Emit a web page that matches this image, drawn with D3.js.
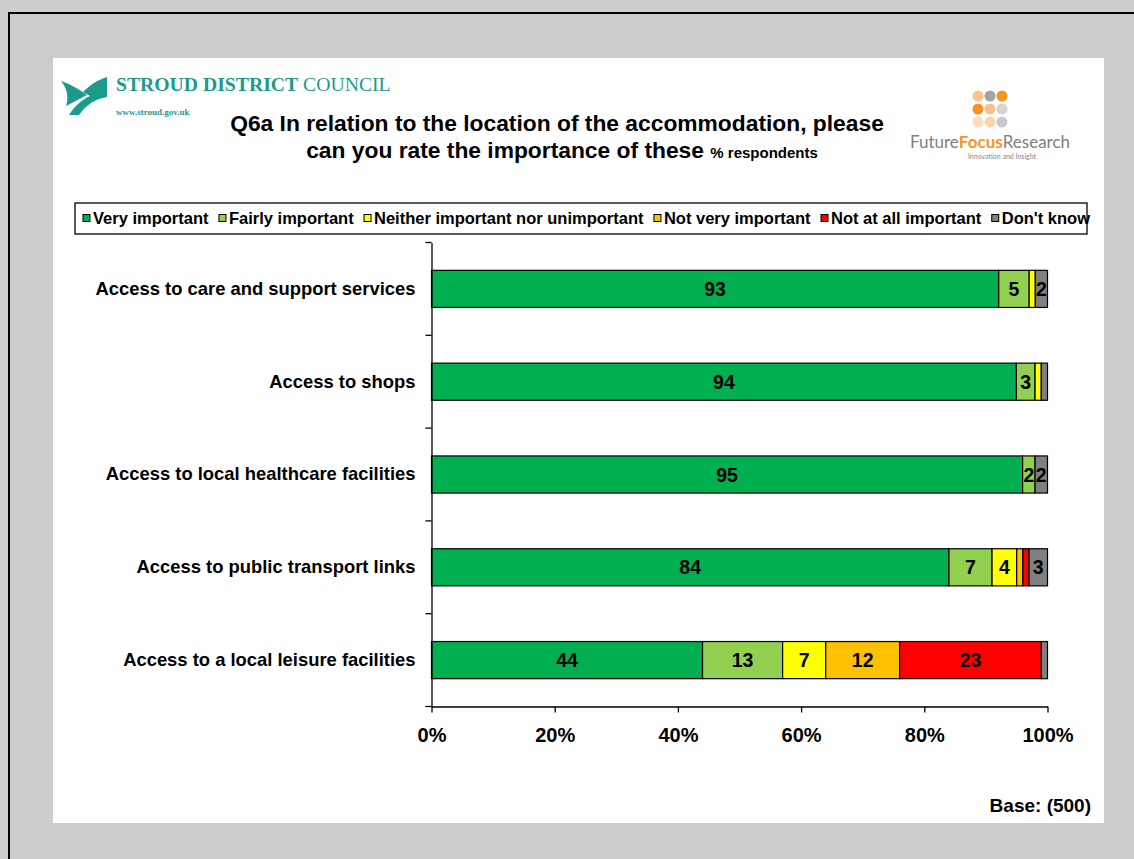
<!DOCTYPE html>
<html><head><meta charset="utf-8">
<script src="https://cdn.jsdelivr.net/npm/d3@7/dist/d3.min.js"></script>
<style>body{margin:0;background:#cccccc;} svg{display:block;}</style>
</head><body>
<svg id="c" width="1134" height="859"></svg>
<script>
// ---- data ----
const categories = [
  "Access to care and support services",
  "Access to shops",
  "Access to local healthcare facilities",
  "Access to public transport links",
  "Access to a local leisure facilities"
];
const seriesNames = ["Very important","Fairly important","Neither important nor unimportant","Not very important","Not at all important","Don't know"];
const veryImportant   = [93, 94, 95, 84, 44];
const fairlyImportant = [5, 3, 2, 7, 13];
const neitherImp      = [1, 1, 0, 4, 7];
const notVeryImp      = [0, 0, 0, 1, 12];
const notAtAllImp     = [0, 0, 0, 1, 23];
const dontKnow        = [2, 1, 2, 3, 1];
const xTicks = [0, 0.2, 0.4, 0.6, 0.8, 1];
const seriesColors = ["#00B050","#92D050","#FFFF00","#FFC000","#FF0000","#808080"];

const seriesValues = [veryImportant, fairlyImportant, neitherImp, notVeryImp, notAtAllImp, dontKnow];
const keys = seriesNames;
const rows = categories.map((c, i) => {
  const r = {cat: c};
  keys.forEach((k, j) => r[k] = seriesValues[j][i]);
  return r;
});

const svg = d3.select("#c");
const FONT = "'Liberation Sans', Arial, sans-serif";

// background & frame
svg.append("rect").attr("x",0).attr("y",0).attr("width",1134).attr("height",859).attr("fill","#cccccc");
svg.append("path").attr("d","M9,859 L9,13 L1134,13").attr("fill","none").attr("stroke","#000").attr("stroke-width",2);
svg.append("rect").attr("x",53).attr("y",58).attr("width",1051).attr("height",765).attr("fill","#fff");

// ---- Stroud logo ----
const teal = "#1a9b8c";
const logo = svg.append("g");
logo.append("path").attr("fill", teal)
  .attr("d","M61,81 C70,84 79,89 87,95 L66,106 C69,97 67,88 61,81 Z");
logo.append("path").attr("fill", teal)
  .attr("d","M83,92 C90,85 97,80 107,77 L107,97 C95,99 86,105 79,115 L69,115 C75,106 81,100 90,96 Z");
logo.append("text").attr("x",116).attr("y",91).attr("fill",teal)
  .style("font-family","'Liberation Serif','DejaVu Serif',serif").style("font-size","19.7px")
  .call(t => {
    t.append("tspan").style("font-weight","bold").text("STROUD DISTRICT");
    t.append("tspan").text(" COUNCIL");
  });
logo.append("text").attr("x",116).attr("y",115).attr("fill",teal)
  .style("font-family","'Liberation Serif','DejaVu Serif',serif").style("font-size","9px").style("font-weight","bold")
  .text("www.stroud.gov.uk");

// ---- Future Focus logo ----
const dotColors = [["#f9c28e","#a3a3a3","#f7941d"],["#f7941d","#f9c28e","#d4d4d4"],["#fcdcbc","#fbd3ac","#c9c9c9"]];
const ff = svg.append("g");
dotColors.forEach((row, r) => row.forEach((col, c) => {
  ff.append("circle").attr("cx", 978 + c*12).attr("cy", 96 + r*13).attr("r", 5.5).attr("fill", col);
}));
ff.append("text").attr("x",910).attr("y",148)
  .style("font-family","Lato, 'Open Sans', sans-serif").style("font-size","17px")
  .call(t => {
    t.append("tspan").attr("fill","#808080").text("Future");
    t.append("tspan").attr("fill","#f7941d").style("font-weight","bold").text("Focus");
    t.append("tspan").attr("fill","#808080").text("Research");
  });
ff.append("text").attr("x",1002).attr("y",159).attr("text-anchor","middle").attr("fill","#888")
  .style("font-family","Lato, sans-serif").style("font-size","7px").text("Innovation and Insight");

// ---- Title ----
svg.append("text").attr("x",557).attr("y",131).attr("text-anchor","middle")
  .style("font-family",FONT).style("font-weight","bold").style("font-size","22.8px")
  .text("Q6a In relation to the location of the accommodation, please");
svg.append("text").attr("x",562).attr("y",158).attr("text-anchor","middle")
  .style("font-family",FONT).style("font-weight","bold").style("font-size","22.8px")
  .call(t => {
    t.append("tspan").text("can you rate the importance of these ");
    t.append("tspan").style("font-size","15px").text("  % respondents");
  });

// ---- Legend ----
const lgX0 = 75, lgX1 = 1087, lgY0 = 203, lgY1 = 234;
svg.append("rect").attr("x",lgX0).attr("y",lgY0).attr("width",lgX1-lgX0).attr("height",lgY1-lgY0)
  .attr("fill","#fff").attr("stroke","#000").attr("stroke-width",1.3);
const lg = svg.append("g");
const lgFont = 16.5;
const items = keys.map((k, i) => {
  const g = lg.append("g");
  g.append("rect").attr("width",7).attr("height",7).attr("y",-4).attr("fill",seriesColors[i]).attr("stroke","#000").attr("stroke-width",1);
  const t = g.append("text").attr("x",10).attr("y",0).attr("dy","0.36em")
    .style("font-family",FONT).style("font-weight","bold").style("font-size",lgFont+"px").text(k);
  return {g, w: 10 + t.node().getComputedTextLength()};
});
const totalW = d3.sum(items, d => d.w);
const lgStart = 83, lgEnd = 1090;
const gap = (lgEnd - lgStart - totalW) / (items.length - 1);
let cx = lgStart;
items.forEach(it => { it.g.attr("transform", `translate(${cx},${(lgY0+lgY1)/2})`); cx += it.w + gap; });

// ---- Chart ----
const x = d3.scaleLinear().domain([0,1]).range([431.5, 1047.5]);
const y = d3.scaleBand().domain(categories).range([242.5, 706.5]).paddingInner(0.6).paddingOuter(0.3);

const stack = d3.stack().keys(keys).offset(d3.stackOffsetExpand);
const stacked = stack(rows);

const layers = svg.append("g").selectAll("g").data(stacked).join("g").attr("fill", (d,i) => seriesColors[i]);
layers.selectAll("rect").data(d => d.filter(s => s[1] - s[0] > 0)).join("rect")
  .attr("x", d => x(d[0])).attr("width", d => x(d[1]) - x(d[0]))
  .attr("y", d => y(d.data.cat)).attr("height", y.bandwidth())
  .attr("stroke","#000").attr("stroke-width",1.2);

// value labels
const lab = svg.append("g");
stacked.forEach((layer, li) => {
  layer.forEach(s => {
    const v = s.data[layer.key];
    if (v >= 2) {
      lab.append("text").attr("x", (x(s[0]) + x(s[1]))/2).attr("y", y(s.data.cat) + y.bandwidth()/2)
        .attr("dy","0.36em").attr("text-anchor","middle")
        .style("font-family",FONT).style("font-weight","bold").style("font-size","19.5px")
        .text(d3.format("d")(v));
    }
  });
});

// y axis
const yAxis = svg.append("g").attr("transform","translate(431.5,0)")
  .call(d3.axisLeft(y).tickSize(0).tickSizeOuter(0).tickPadding(16));
yAxis.select(".domain").attr("stroke","#000").attr("stroke-width",1.3);
yAxis.selectAll("text").style("font-family",FONT).style("font-weight","bold").style("font-size","18.4px").attr("fill","#000");
// boundary ticks
const bounds = d3.range(categories.length + 1).map(i => y.range()[0] + i * y.step());
yAxis.selectAll(".btick").data(bounds).join("line").attr("class","btick")
  .attr("x1",-6).attr("x2",0).attr("y1",d=>d).attr("y2",d=>d).attr("stroke","#000").attr("stroke-width",1.3);

// x axis
const xAxis = svg.append("g").attr("transform","translate(0,706.5)")
  .call(d3.axisBottom(x).tickValues(xTicks).tickFormat(d3.format(".0%")).tickSize(6).tickSizeOuter(0).tickPadding(15));
xAxis.select(".domain").attr("stroke","#000").attr("stroke-width",1.3);
xAxis.selectAll("line").attr("stroke","#000").attr("stroke-width",1.3);
xAxis.selectAll("text").style("font-family",FONT).style("font-weight","bold").style("font-size","20px").attr("fill","#000");

// base
svg.append("text").attr("x",1091).attr("y",812).attr("text-anchor","end")
  .style("font-family",FONT).style("font-weight","bold").style("font-size","19px").text("Base: (500)");
</script>
</body></html>
